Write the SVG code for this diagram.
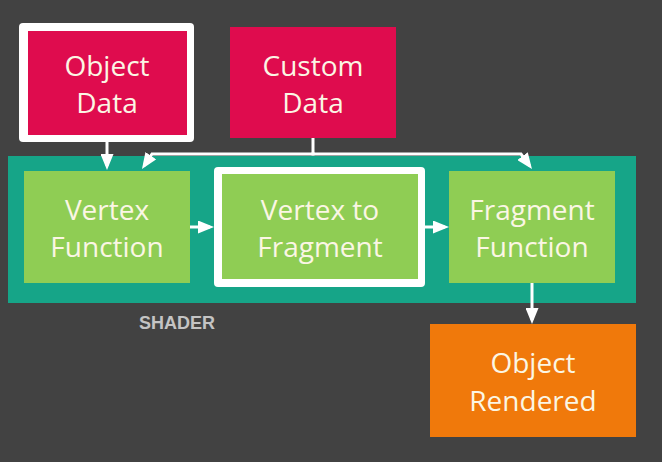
<svg xmlns="http://www.w3.org/2000/svg" width="662" height="462" viewBox="0 0 662 462">
<defs>
<style>
.bg{fill:#424242}
.red{fill:#df0c4e}
.green{fill:#8fcd54}
.teal{fill:#16a588}
.orange{fill:#f0790b}
.frame{fill:#ffffff}
.lbl{font-family:"Open Sans","Noto Sans","DejaVu Sans",sans-serif;font-size:28px;fill:#fbf6e4;text-anchor:middle}
.cap{font-family:"Liberation Sans",Arial,sans-serif;font-size:18px;font-weight:bold;fill:#c4c4c4;text-anchor:middle}
.con{fill:none;stroke:#ffffff;stroke-width:3}
</style>
<marker id="ah" viewBox="0 0 16 13" refX="12" refY="6.5" markerWidth="16" markerHeight="13" markerUnits="userSpaceOnUse" orient="auto">
<path d="M0,0 L16,6.5 L0,13 z" fill="#ffffff"/>
</marker>
</defs>
<rect class="bg" x="0" y="0" width="662" height="462"/>
<g id="shader">
<rect class="teal" x="8" y="156" width="628" height="147"/>
<text class="cap" x="177" y="329">SHADER</text>
</g>
<g id="object-data">
<rect class="frame" x="19" y="23" width="175" height="119" rx="4"/>
<rect class="red" x="28" y="31" width="159" height="104"/>
<text class="lbl" x="107" y="76">Object</text>
<text class="lbl" x="107" y="113">Data</text>
</g>
<g id="custom-data">
<rect class="red" x="230" y="27" width="166" height="111"/>
<text class="lbl" x="313" y="76">Custom</text>
<text class="lbl" x="313" y="113">Data</text>
</g>
<g id="vertex-function">
<rect class="green" x="24" y="171" width="166" height="112"/>
<text class="lbl" x="107" y="220">Vertex</text>
<text class="lbl" x="107" y="257">Function</text>
</g>
<g id="vertex-to-fragment">
<rect class="frame" x="214" y="167" width="211" height="120" rx="4"/>
<rect class="green" x="222" y="174" width="196" height="105"/>
<text class="lbl" x="320" y="220">Vertex to</text>
<text class="lbl" x="320" y="257">Fragment</text>
</g>
<g id="fragment-function">
<rect class="green" x="449" y="171" width="166" height="112"/>
<text class="lbl" x="532" y="220">Fragment</text>
<text class="lbl" x="532" y="257">Function</text>
</g>
<g id="object-rendered">
<rect class="orange" x="430" y="324" width="206" height="113"/>
<text class="lbl" x="533" y="373">Object</text>
<text class="lbl" x="533" y="411">Rendered</text>
</g>
<g id="connectors">
<path class="con" d="M107 142 V166" marker-end="url(#ah)"/>
<path class="con" d="M313 138 V154"/>
<path class="con" d="M314.5 154 H152 L144.2 165.7" marker-end="url(#ah)"/>
<path class="con" d="M311.5 154 H521 L529.6 165.8" marker-end="url(#ah)"/>
<path class="con" d="M190 227 H210" marker-end="url(#ah)"/>
<path class="con" d="M425 227 H445" marker-end="url(#ah)"/>
<path class="con" d="M532 283 V320" marker-end="url(#ah)"/>
</g>
</svg>
